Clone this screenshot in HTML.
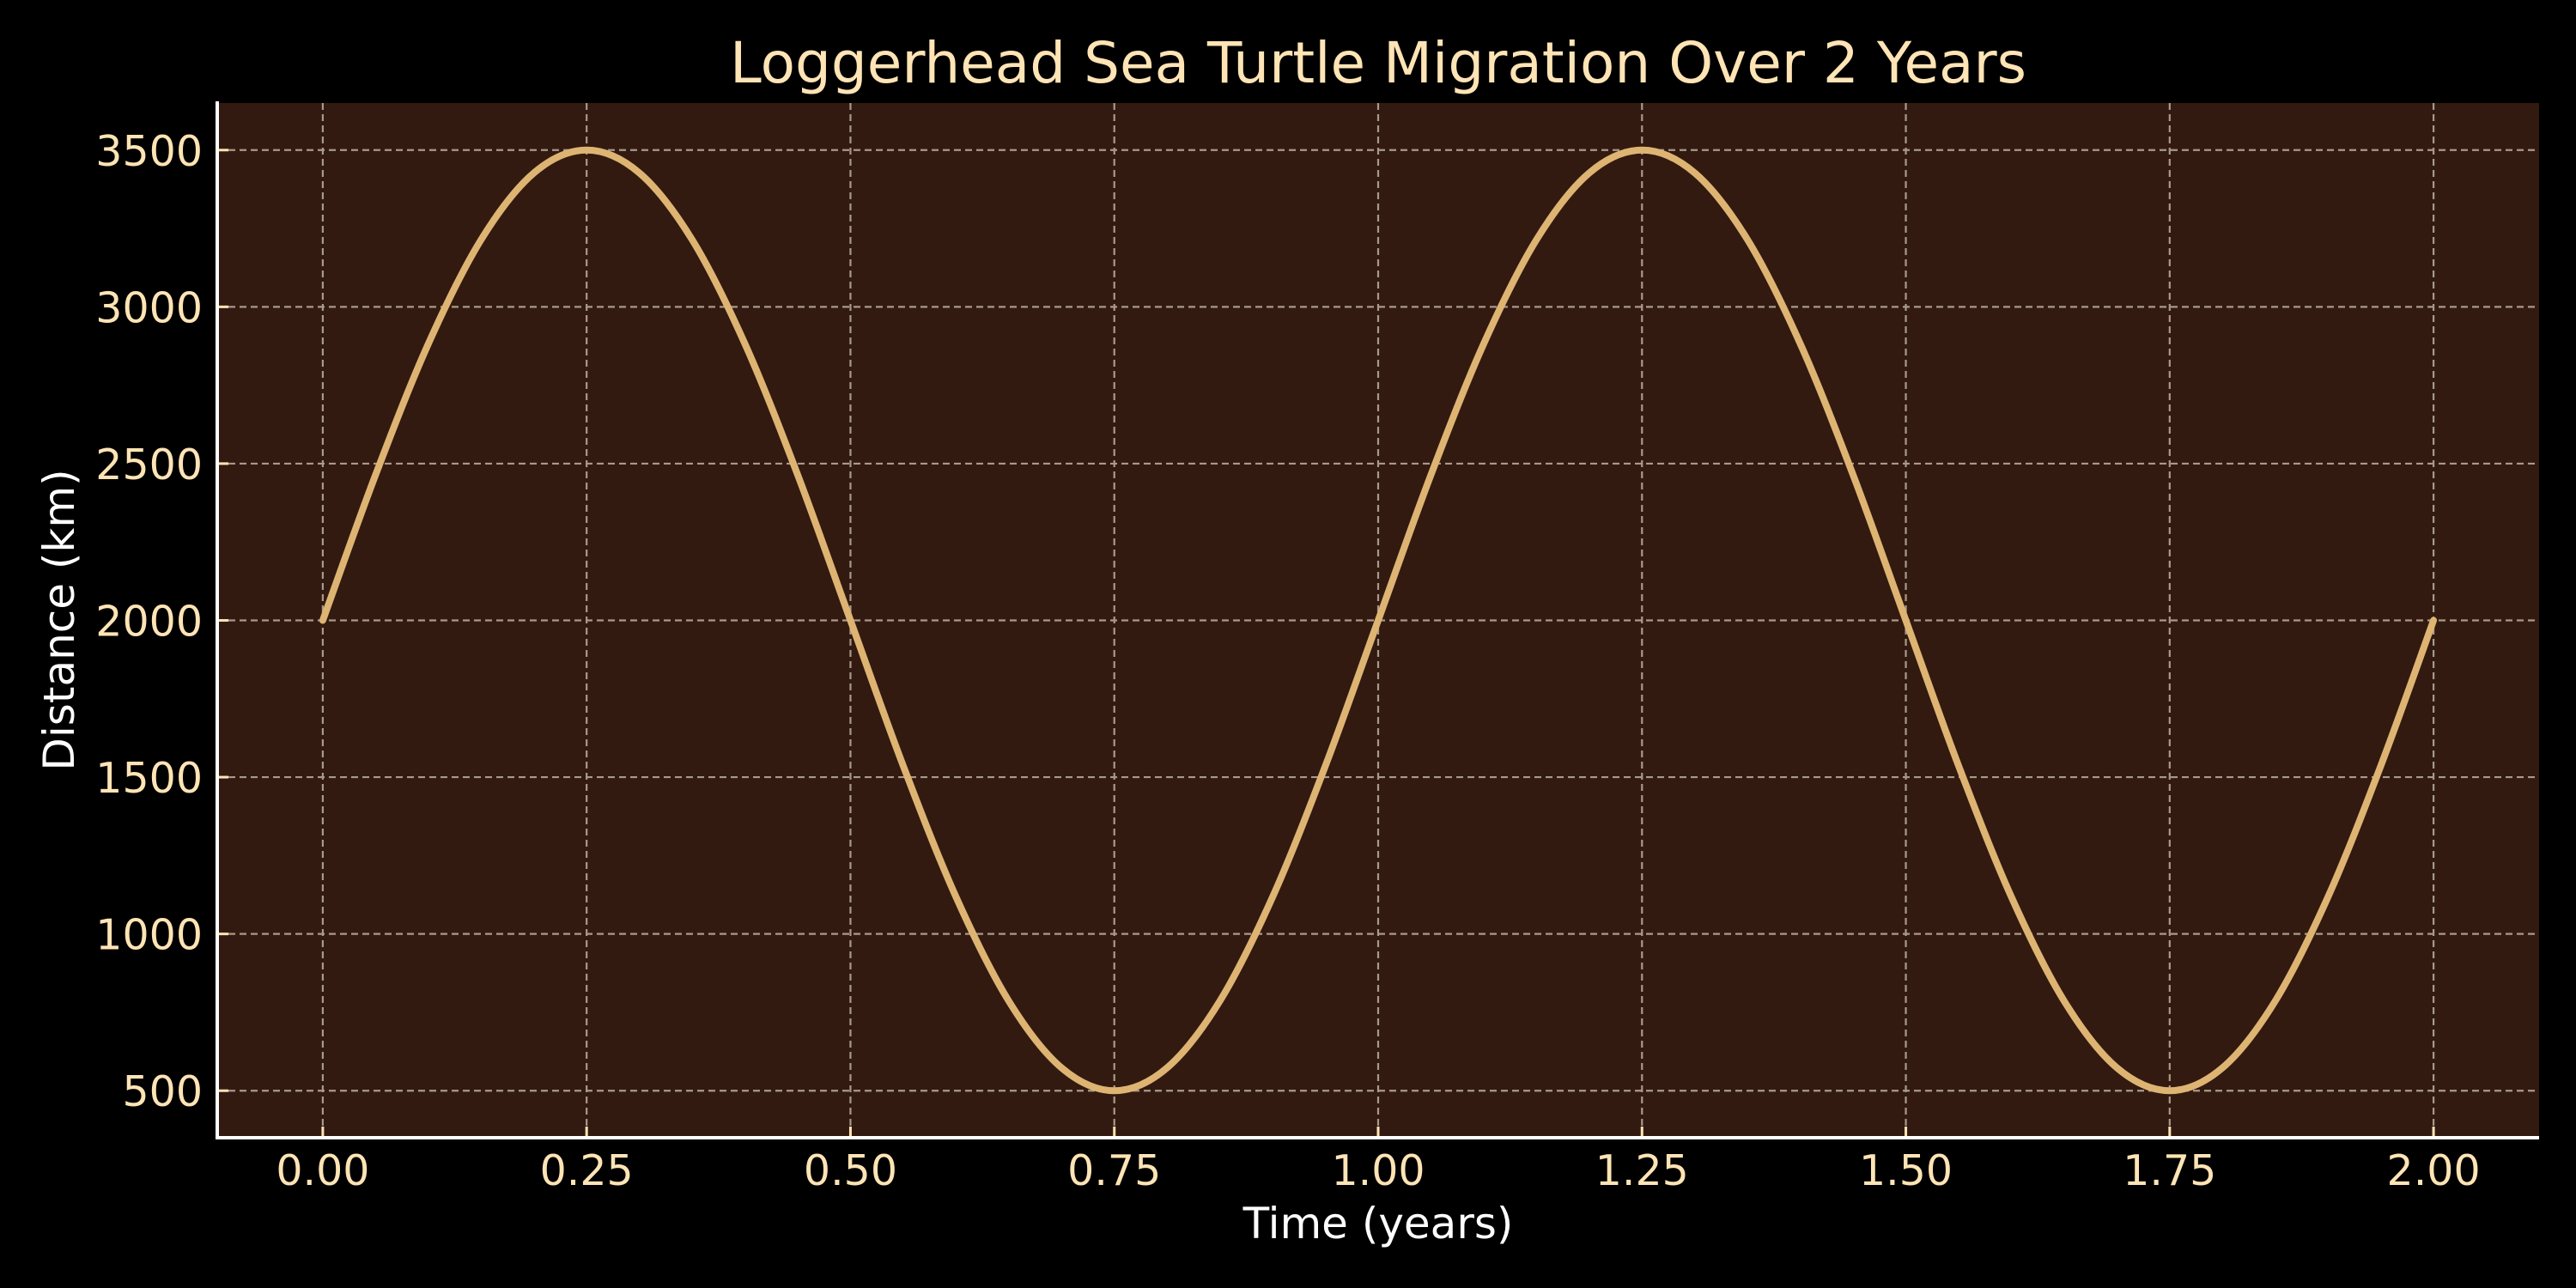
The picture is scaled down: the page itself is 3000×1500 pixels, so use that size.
<!DOCTYPE html>
<html><head><meta charset="utf-8"><style>
html,body{margin:0;padding:0;background:#000;}
svg{display:block;font-family:"DejaVu Sans","Liberation Sans",sans-serif;}
</style></head><body>
<svg id="chart" width="3000" height="1500" viewBox="0 0 3000 1500" xmlns="http://www.w3.org/2000/svg">
<rect x="0" y="0" width="3000" height="1500" fill="#000"/>
<rect x="253" y="120" width="2704" height="1205" fill="#331a10"/>
<g id="grid"></g>
<g id="ticks"></g>
<path id="line" fill="none" stroke="#deb473" stroke-width="8" stroke-linejoin="round" stroke-linecap="round"/>
<line x1="253" y1="118" x2="253" y2="1327" stroke="#fff" stroke-width="4"/>
<line x1="251" y1="1325" x2="2957" y2="1325" stroke="#fff" stroke-width="4"/>
<text x="1605" y="96" text-anchor="middle" font-size="66" fill="#ffe4b5">Loggerhead Sea Turtle Migration Over 2 Years</text>
<text x="1605" y="1442" text-anchor="middle" font-size="50" fill="#ffffff">Time (years)</text>
<text x="0" y="0" transform="translate(86,722) rotate(-90)" text-anchor="middle" font-size="50" fill="#ffffff">Distance (km)</text>
</svg>
<script>
const xTicks=[0,0.25,0.5,0.75,1,1.25,1.5,1.75,2];
const xTickLabels=["0.00","0.25","0.50","0.75","1.00","1.25","1.50","1.75","2.00"];
const yTicks=[500,1000,1500,2000,2500,3000,3500];
const yTickLabels=["500","1000","1500","2000","2500","3000","3500"];
const times=[0,0.05,0.1,0.15,0.2,0.25,0.3,0.35,0.4,0.45,0.5,0.55,0.6,0.65,0.7,0.75,0.8,0.85,0.9,0.95,1,1.05,1.1,1.15,1.2,1.25,1.3,1.35,1.4,1.45,1.5,1.55,1.6,1.65,1.7,1.75,1.8,1.85,1.9,1.95,2];
const distances=[2000,2464,2882,3214,3427,3500,3427,3214,2882,2464,2000,1536,1118,786,573,500,573,786,1118,1536,2000,2464,2882,3214,3427,3500,3427,3214,2882,2464,2000,1536,1118,786,573,500,573,786,1118,1536,2000];
const L=253,R=2957,T=120,B=1325,xmin=-0.1,xmax=2.1,ymin=350,ymax=3650;
const xs=v=>L+(v-xmin)/(xmax-xmin)*(R-L);
const ys=v=>B-(v-ymin)/(ymax-ymin)*(B-T);
const NS="http://www.w3.org/2000/svg";
const svg=document.getElementById('chart'),grid=document.getElementById('grid'),ticks=document.getElementById('ticks');
function mk(tag,attrs,parent){const e=document.createElementNS(NS,tag);for(const k in attrs)e.setAttribute(k,attrs[k]);parent.appendChild(e);return e;}
xTicks.forEach((v,i)=>{const x=xs(v);
 const g=mk('line',{x1:x,y1:T,x2:x,y2:B,stroke:'#a89a8a','stroke-width':2.2,'stroke-dasharray':'8,5'},grid);
 
 
 const t=mk('line',{x1:x,y1:B,x2:x,y2:B-13,stroke:'#ffe4b5','stroke-width':3},ticks);
 
 
 const l=mk('text',{x:x,y:1380,'text-anchor':'middle','font-size':49,fill:'#ffe4b5'},svg);
 l.textContent=xTickLabels[i];
 
 
});
yTicks.forEach((v,i)=>{const y=ys(v);
 const g=mk('line',{x1:L,y1:y,x2:R,y2:y,stroke:'#a89a8a','stroke-width':2.2,'stroke-dasharray':'8,5'},grid);
 
 
 const t=mk('line',{x1:L,y1:y,x2:L+13,y2:y,stroke:'#ffe4b5','stroke-width':3},ticks);
 
 
 const l=mk('text',{x:236,y:y+18,'text-anchor':'end','font-size':49,fill:'#ffe4b5'},svg);
 l.textContent=yTickLabels[i];
 
 
});
const P=times.map((t,i)=>[xs(t),ys(distances[i])]);
let d='M'+P[0][0]+','+P[0][1];
for(let i=0;i<P.length-1;i++){
 const p0=P[Math.max(0,i-1)],p1=P[i],p2=P[i+1],p3=P[Math.min(P.length-1,i+2)];
 const c1=[p1[0]+(p2[0]-p0[0])/6,p1[1]+(p2[1]-p0[1])/6];
 const c2=[p2[0]-(p3[0]-p1[0])/6,p2[1]-(p3[1]-p1[1])/6];
 d+=' C'+c1[0]+','+c1[1]+' '+c2[0]+','+c2[1]+' '+p2[0]+','+p2[1];
}
document.getElementById('line').setAttribute('d',d);
</script>
</body></html>
